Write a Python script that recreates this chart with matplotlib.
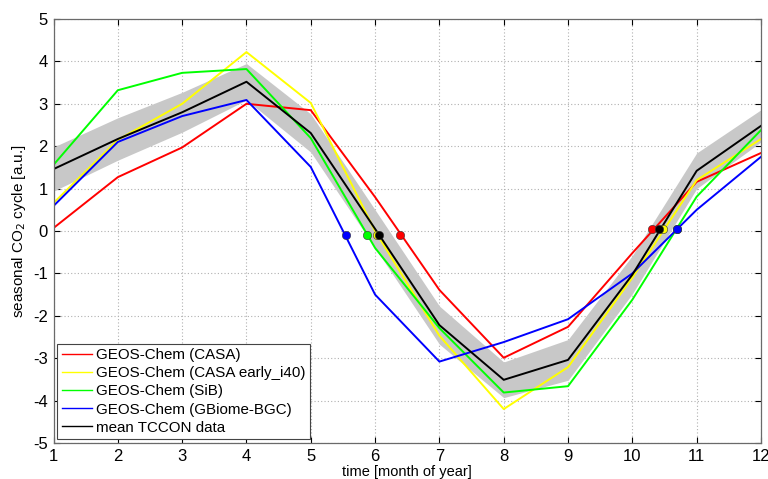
import matplotlib
matplotlib.use("Agg")
import matplotlib.pyplot as plt
import numpy as np

months = [1, 2, 3, 4, 5, 6, 7, 8, 9, 10, 11, 12]

casa = [0.07, 1.27, 1.97, 3.00, 2.85, 0.80, -1.39, -2.99, -2.26, -0.52, 1.16, 1.84]
casa_early = [0.66, 2.15, 3.00, 4.22, 3.02, 0.00, -2.47, -4.20, -3.21, -1.10, 1.20, 2.17]
sib = [1.56, 3.32, 3.73, 3.82, 2.19, -0.40, -2.29, -3.81, -3.66, -1.62, 0.81, 2.38]
gbiome = [0.59, 2.10, 2.71, 3.09, 1.51, -1.50, -3.08, -2.62, -2.08, -1.00, 0.50, 1.75]
tccon = [1.46, 2.17, 2.80, 3.52, 2.31, 0.05, -2.22, -3.51, -3.04, -1.03, 1.42, 2.48]
tccon_spread = [0.52, 0.50, 0.47, 0.43, 0.45, 0.45, 0.45, 0.42, 0.48, 0.45, 0.42, 0.38]

# zero-crossing markers (month, value)
cross_casa = ([6.39, 10.31], [-0.10, 0.05])
cross_casa_early = ([6.03, 10.48], [-0.10, 0.05])
cross_sib = ([5.88, 10.70], [-0.10, 0.05])
cross_gbiome = ([5.55, 10.70], [-0.10, 0.05])
cross_tccon = ([6.06, 10.41], [-0.10, 0.05])

labels = ["GEOS-Chem (CASA)", "GEOS-Chem (CASA early_i40)", "GEOS-Chem (SiB)",
          "GEOS-Chem (GBiome-BGC)", "mean TCCON data"]
colors = ["#ff0000", "#ffff00", "#00ff00", "#0000ff", "#000000"]

plt.rcParams['font.family'] = ['Liberation Sans', 'DejaVu Sans']
plt.rcParams['axes.unicode_minus'] = False

fig = plt.figure(figsize=(7.68, 4.79), dpi=100)
ax = fig.add_axes([53.5/768, 1-443/479, (761-53.5)/768, (443-19)/479])

m = np.array(months)
t = np.array(tccon)
s = np.array(tccon_spread)
ax.fill_between(m, t - s, t + s, color="#c8c8c8", lw=0, zorder=1)

series = [casa, casa_early, sib, gbiome, tccon]
handles = []
for vals, c, lab in zip(series, colors, labels):
    h, = ax.plot(months, vals, color=c, lw=1.4, label=lab, zorder=2)
    handles.append(h)

for (cx, cy), c in zip([cross_casa, cross_casa_early, cross_sib, cross_gbiome, cross_tccon], colors):
    ax.scatter(cx, cy, s=36, color=c, edgecolors="#333333", linewidths=0.4, zorder=3)

ax.set_xlim(1, 12)
ax.set_ylim(-5, 5)
ax.set_xticks(months)
ax.set_yticks(range(-5, 6))
ax.tick_params(direction="in", top=True, right=True, labelsize=12, length=4,
               colors="#000000", pad=4)
for sp in ax.spines.values():
    sp.set_color("#6a6a6a")
    sp.set_linewidth(0.9)
ax.grid(True, linestyle=(0, (1, 2)), color="#b0b0b0", lw=0.8)
ax.set_axisbelow(True)

ax.set_xlabel("time [month of year]", fontsize=10.5, labelpad=1)
ax.set_ylabel("seasonal CO$_2$ cycle [a.u.]", fontsize=11)
ax.yaxis.set_label_coords(-0.036, 0.5)

leg = ax.legend(handles=handles, loc="lower left", fontsize=10.9, frameon=True,
                fancybox=False, edgecolor="#444444", framealpha=1,
                handlelength=2.0, handletextpad=0.25, labelspacing=0.27,
                borderpad=0.3, borderaxespad=0.25)
leg.get_frame().set_linewidth(0.8)
for lh in leg.get_lines():
    lh.set_linewidth(1.0)

fig.savefig("out.png", dpi=100)
